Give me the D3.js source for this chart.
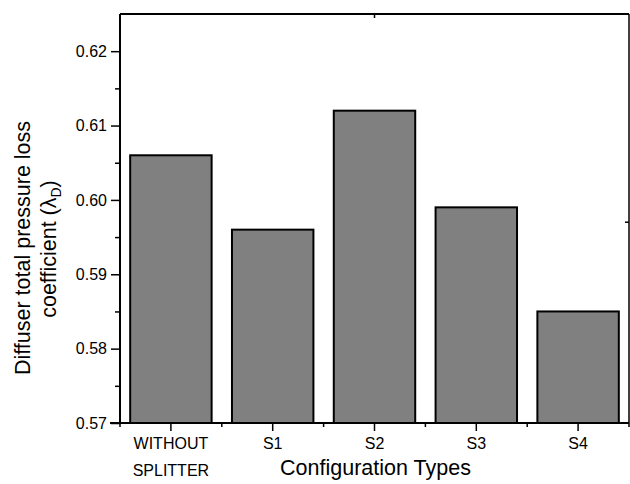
<!DOCTYPE html>
<html>
<head>
<meta charset="utf-8">
<script src="https://cdn.jsdelivr.net/npm/d3@7"></script>
<style>
  html, body { margin: 0; padding: 0; background: #fff; }
  svg { display: block; }
  text { font-family: "Liberation Sans", Arial, sans-serif; fill: #000; }
</style>
</head>
<body>
<svg id="chart" width="630" height="484"></svg>
<script>
const categories = ["WITHOUT\nSPLITTER", "S1", "S2", "S3", "S4"];
const values = [0.606, 0.596, 0.612, 0.599, 0.585];
const yTickValues = [0.57, 0.58, 0.59, 0.60, 0.61, 0.62];
const yMinorTickValues = [0.575, 0.585, 0.595, 0.605, 0.615];
const yDomain = [0.57, 0.625];
const xTitle = "Configuration Types";
const yTitleLine1 = "Diffuser total pressure loss";
const yTitleLine2 = "coefficient (";

(function () {
const svg = d3.select("#chart");
const mLeft = 120, mRight = 629, mTop = 14, mBottom = 423;

const x = d3.scaleBand().domain(categories).range([mLeft, mRight]).paddingInner(0.2).paddingOuter(0.1);
const y = d3.scaleLinear().domain(yDomain).range([mBottom, mTop]);

// bars
svg.append("g").selectAll("rect").data(values).join("rect")
  .attr("x", (d, i) => x(categories[i]))
  .attr("y", d => y(d))
  .attr("width", x.bandwidth())
  .attr("height", d => y(yDomain[0]) - y(d))
  .attr("fill", "#808080")
  .attr("stroke", "#000")
  .attr("stroke-width", 2);

// frame top & right
svg.append("line").attr("x1", mLeft).attr("x2", mRight).attr("y1", mTop).attr("y2", mTop)
  .attr("stroke", "#000").attr("stroke-width", 2);
svg.append("line").attr("x1", mRight).attr("x2", mRight).attr("y1", mTop).attr("y2", mBottom)
  .attr("stroke", "#000").attr("stroke-width", 1.5);
// small inward ticks on top and right (as in the reference)
svg.append("line").attr("x1", x("S2") + x.bandwidth() / 2).attr("x2", x("S2") + x.bandwidth() / 2)
  .attr("y1", mTop).attr("y2", mTop + 4).attr("stroke", "#000").attr("stroke-width", 1.5);
svg.append("line").attr("x1", mRight - 4).attr("x2", mRight).attr("y1", y(0.597)).attr("y2", y(0.597))
  .attr("stroke", "#000").attr("stroke-width", 1.5);

// Y axis
const yAxis = d3.axisLeft(y).tickValues(yTickValues).tickSize(9).tickPadding(4)
  .tickFormat(d3.format(".2f"));
const gy = svg.append("g").attr("transform", `translate(${mLeft},0)`).call(yAxis);
gy.select(".domain").attr("stroke-width", 2).attr("d", `M0,${mBottom}V${mTop}`);
gy.selectAll(".tick line").attr("stroke-width", 1.5);
gy.selectAll(".tick text").attr("font-size", 16).attr("font-family", "Liberation Sans, Arial, sans-serif");
const yMinor = d3.axisLeft(y).tickValues(yMinorTickValues).tickSize(5).tickFormat("");
const gym = svg.append("g").attr("transform", `translate(${mLeft},0)`).call(yMinor);
gym.select(".domain").remove();
gym.selectAll(".tick line").attr("stroke-width", 1.5);

// X axis
const xAxis = d3.axisBottom(x).tickSize(8).tickFormat("");
const gx = svg.append("g").attr("transform", `translate(0,${mBottom})`).call(xAxis);
gx.select(".domain").attr("stroke-width", 2).attr("d", `M${mLeft - 10},0H${mRight}`);
gx.selectAll(".tick line").attr("stroke-width", 1.5);
// minor ticks at band boundaries
const boundaries = categories.map(c => x(c) - x.step() * x.paddingInner() / 2);
boundaries[0] = mLeft;
boundaries.push(mRight);
svg.append("g").selectAll("line").data(boundaries).join("line")
  .attr("x1", d => d).attr("x2", d => d)
  .attr("y1", mBottom).attr("y2", mBottom + 4)
  .attr("stroke", "#000").attr("stroke-width", 1.5);

// x tick labels
const xl = svg.append("g").selectAll("text").data(categories).join("text")
  .attr("x", d => x(d) + x.bandwidth() / 2)
  .attr("y", 449)
  .attr("text-anchor", "middle")
  .attr("font-size", 16);
xl.each(function(d) {
  const lines = d.split("\n");
  const t = d3.select(this);
  lines.forEach((ln, i) => {
    t.append("tspan").attr("x", x(d) + x.bandwidth() / 2).attr("dy", i === 0 ? 0 : 27).text(ln);
  });
});

// x title
svg.append("text")
  .attr("x", (mLeft + mRight) / 2 + 1)
  .attr("y", 475)
  .attr("text-anchor", "middle")
  .attr("font-size", 21.5)
  .text(xTitle);

// y title
const yt = svg.append("text")
  .attr("transform", "translate(30,248) rotate(-90)")
  .attr("text-anchor", "middle")
  .attr("font-size", 21.5);
yt.append("tspan").attr("x", 0).attr("y", 0).text(yTitleLine1);
const l2 = svg.append("text")
  .attr("transform", "translate(56,249) rotate(-90)")
  .attr("text-anchor", "middle")
  .attr("font-size", 21.5);
l2.append("tspan").text(yTitleLine2);
l2.append("tspan").text("λ");
l2.append("tspan").attr("font-size", 14).attr("dy", 5).text("D");
l2.append("tspan").attr("dy", -5).text(")");
})();
</script>
</body>
</html>
